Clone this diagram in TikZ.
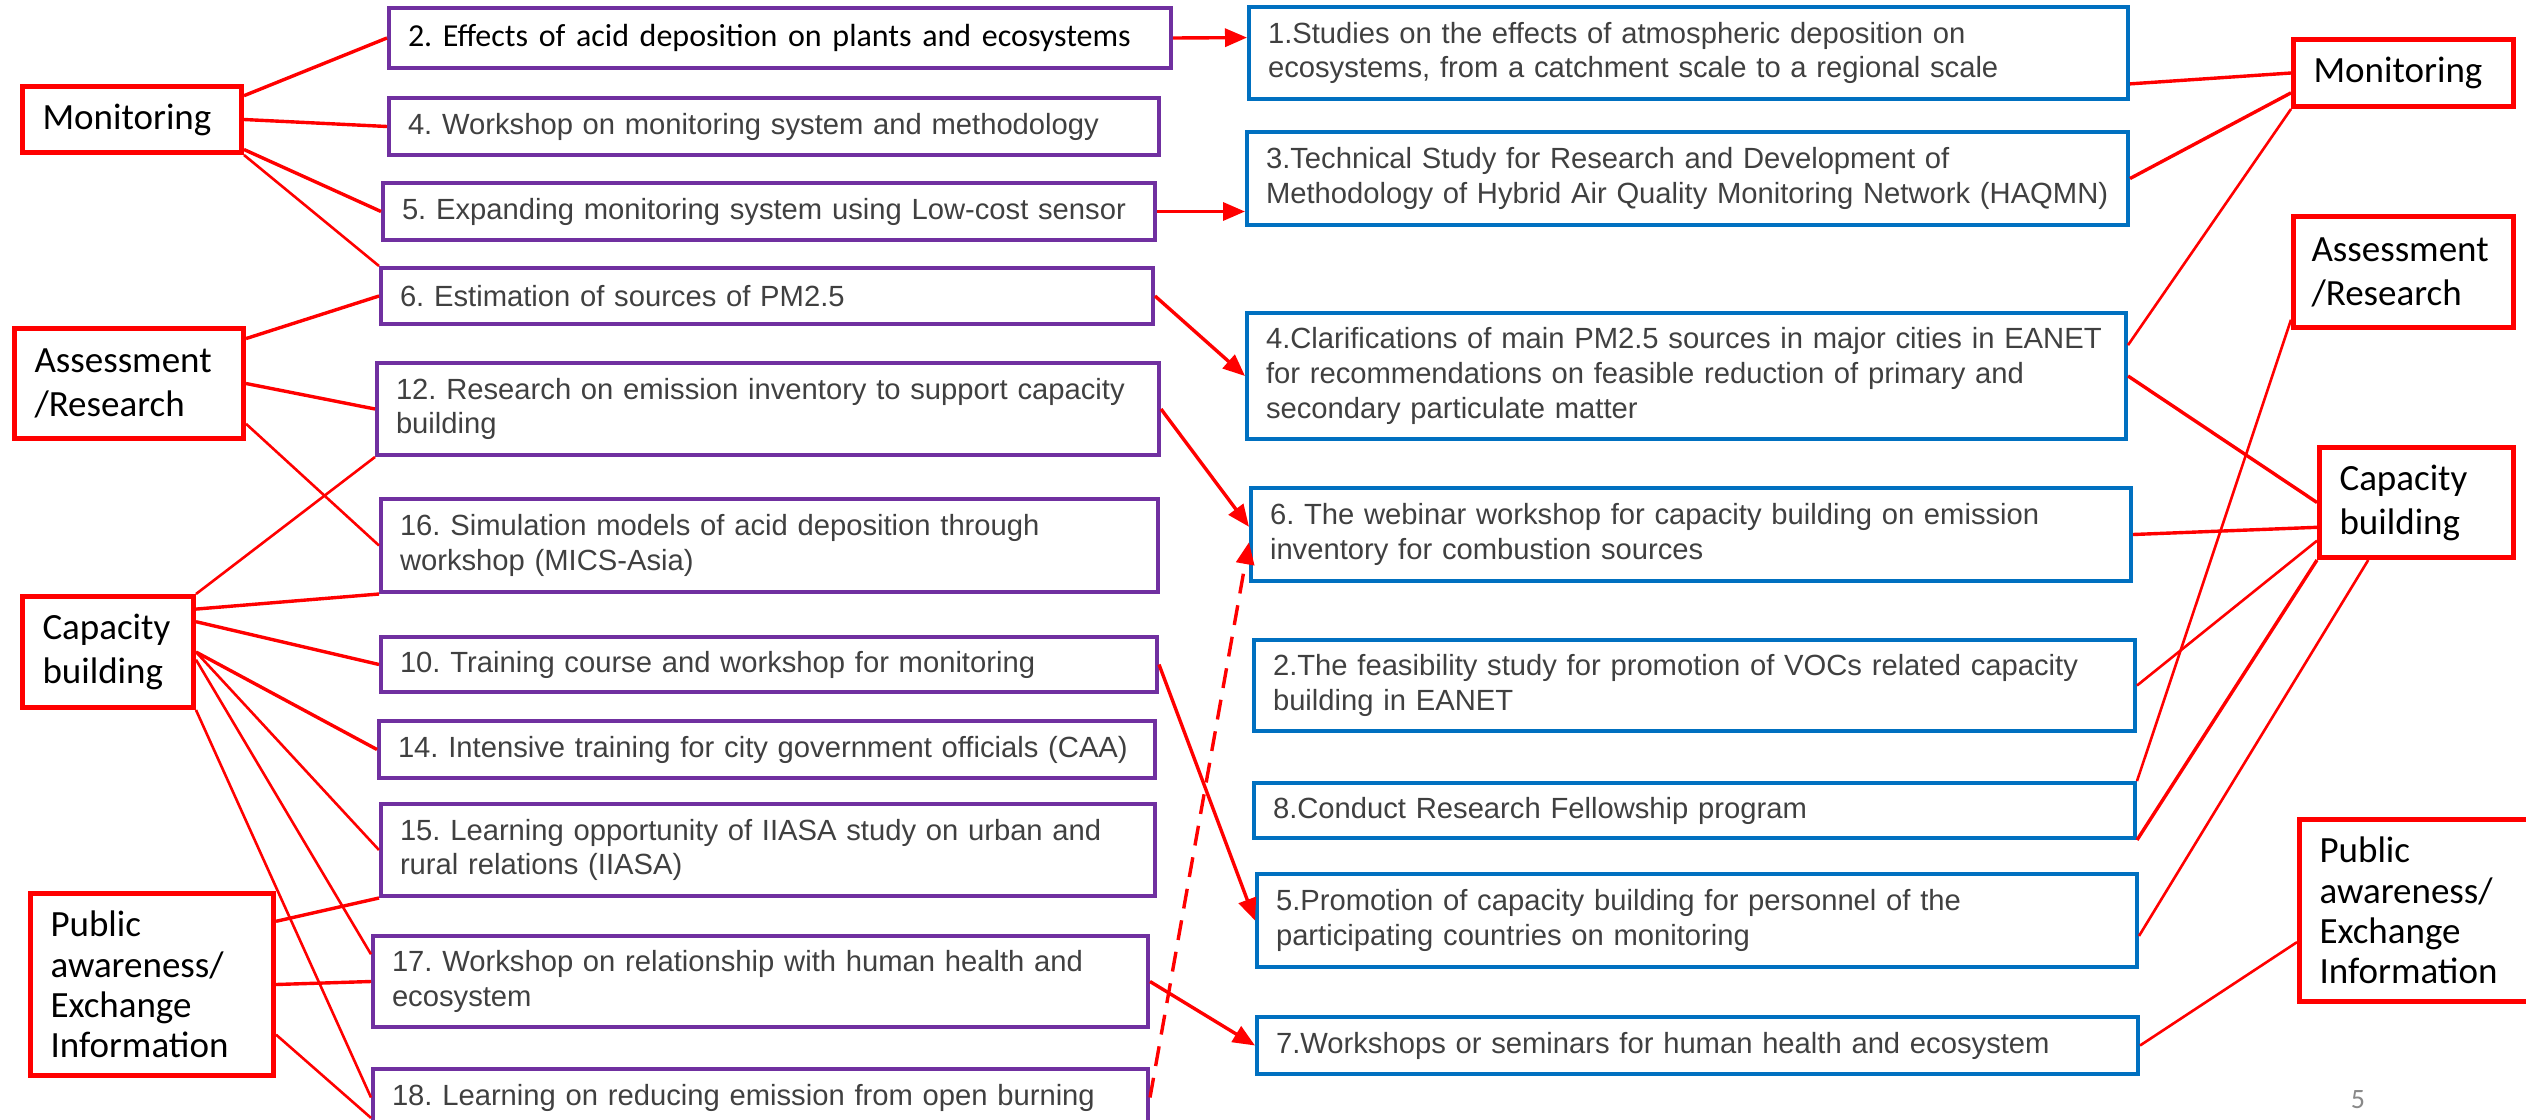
\documentclass[tikz,border=0pt]{standalone}
\usepackage{fontspec}
\setmainfont{Liberation Sans}
\newfontfamily\calibri{Carlito}
\usetikzlibrary{arrows.meta}
\definecolor{linkred}{RGB}{255,0,0}
\definecolor{actpurple}{RGB}{112,48,160}
\definecolor{resblue}{RGB}{0,112,192}
\definecolor{bodygray}{RGB}{64,64,64}
\definecolor{pagegray}{RGB}{137,137,137}
\def\bodyfont{\fontsize{14.6}{17.3}\selectfont}
\def\catfont{\calibri\fontsize{18.5}{22}\selectfont}
\def\pubfont{\calibri\fontsize{18.5}{20.2}\selectfont}
\hyphenpenalty=10000
\frenchspacing

\begin{document}
\begin{tikzpicture}[x=0.5pt,y=0.5pt,yscale=-1,xscale=1,
	cat/.style={draw=linkred, line width=2.5pt, anchor=north west, align=left, inner xsep=10pt, inner ysep=0pt, font=\catfont, text=black},
	actbox/.style={draw=actpurple, line width=2pt, anchor=north west, align=left, inner xsep=9.5pt, inner ysep=0pt, font=\bodyfont, text=bodygray},
	resbox/.style={actbox, draw=resblue},
	link/.style={draw=linkred, line width=1.7pt},
	thinlink/.style={link, line width=1.3pt},
	flow/.style={link, -{Triangle[length=11pt,width=9pt]}}]
	\useasboundingbox (0,0) rectangle (2526,1119);
	\node [cat, minimum width=109.5pt, minimum height=33pt, text width=89.5pt] (monL) at (20,84) {Monitoring};
	\node [cat, minimum width=114.5pt, minimum height=55pt, text width=94.5pt] (assL) at (12,326) {Assessment\\/Research};
	\node [cat, minimum width=85.5pt, minimum height=55.5pt, text width=65.5pt] (capL) at (20,594) {Capacity\\building};
	\node [cat, minimum width=121.5pt, minimum height=91pt, text width=101.5pt, font=\pubfont] (pubL) at (28,891) {Public\\awareness/\\Exchange\\Information};
	\node [cat, minimum width=110pt, minimum height=33.5pt, text width=90pt] (monR) at (2291,37) {Monitoring};
	\node [cat, minimum width=110pt, minimum height=55.5pt, text width=92pt, inner xsep=9pt] (assR) at (2291,214) {Assessment\\/Research};
	\node [cat, minimum width=97pt, minimum height=55pt, text width=77pt] (capR) at (2317,445) {Capacity\\building};
	\node [cat, minimum width=115.5pt, minimum height=91pt, text width=95.5pt, font=\pubfont] (pubR) at (2297,817) {Public\\awareness/\\Exchange\\Information};

	\node [actbox, minimum width=391pt, minimum height=30pt, text width=372pt, font=\calibri\fontsize{16}{19}\selectfont, text=black] (act2) at (387,6) {2. Effects of acid deposition on plants and ecosystems};
	\node [actbox, minimum width=385pt, minimum height=28.5pt, text width=366pt] (act4) at (387,96) {4. Workshop on monitoring system and methodology};
	\node [actbox, minimum width=386pt, minimum height=28.5pt, text width=367pt] (act5) at (381,181) {5. Expanding monitoring system using Low-cost sensor};
	\node [actbox, minimum width=386pt, minimum height=28pt, text width=367pt] (act6) at (379,266) {6. Estimation of sources of PM2.5};
	\node [actbox, minimum width=391pt, minimum height=46pt, text width=372pt] (act12) at (375,361) {12. Research on emission inventory to support capacity\\building};
	\node [actbox, minimum width=388.5pt, minimum height=46.5pt, text width=369.5pt] (act16) at (379,497) {16. Simulation models of acid deposition through\\workshop (MICS-Asia)};
	\node [actbox, minimum width=388pt, minimum height=27.5pt, text width=369pt] (act10) at (379,635) {10. Training course and workshop for monitoring};
	\node [actbox, minimum width=388pt, minimum height=28.5pt, text width=369pt] (act14) at (377,719) {14. Intensive training for city government officials (CAA)};
	\node [actbox, minimum width=387pt, minimum height=46pt, text width=368pt] (act15) at (379,802) {15. Learning opportunity of IIASA study on urban and\\rural relations (IIASA)};
	\node [actbox, minimum width=387.5pt, minimum height=45.5pt, text width=368.5pt] (act17) at (371,934) {17. Workshop on relationship with human health and\\ecosystem};
	\node [actbox, minimum width=387.5pt, minimum height=28.5pt, text width=368.5pt] (act18) at (371,1067) {18. Learning on reducing emission from open burning};

	\node [resbox, minimum width=439.5pt, minimum height=46pt, text width=420.5pt] (res1) at (1247,5) {1.Studies on the effects of atmospheric deposition on\\ecosystems, from a catchment scale to a regional scale};
	\node [resbox, minimum width=440.5pt, minimum height=46.5pt, text width=421.5pt] (res3) at (1245,130) {3.Technical Study for Research and Development of\\Methodology of Hybrid Air Quality Monitoring Network (HAQMN)};
	\node [resbox, minimum width=439.5pt, minimum height=63pt, text width=420.5pt] (res4) at (1245,311) {4.Clarifications of main PM2.5 sources in major cities in EANET\\for recommendations on feasible reduction of primary and\\secondary particulate matter};
	\node [resbox, minimum width=440pt, minimum height=46.5pt, text width=421pt] (res6) at (1249,486) {6. The webinar workshop for capacity building on emission\\inventory for combustion sources};
	\node [resbox, minimum width=440.5pt, minimum height=45.5pt, text width=421.5pt] (res2) at (1252,638) {2.The feasibility study for promotion of VOCs related capacity\\building in EANET};
	\node [resbox, minimum width=440.5pt, minimum height=27.5pt, text width=421.5pt] (res8) at (1252,781) {8.Conduct Research Fellowship program};
	\node [resbox, minimum width=440pt, minimum height=46.5pt, text width=421pt] (res5) at (1255,872) {5.Promotion of capacity building for personnel of the\\participating countries on monitoring};
	\node [resbox, minimum width=440.5pt, minimum height=28.5pt, text width=421.5pt] (res7) at (1255,1015) {7.Workshops or seminars for human health and ecosystem};

	\node [font=\calibri\fontsize{14}{16}\selectfont, text=pagegray] (pagenum) at (2358,1100) {5};

	\draw [link] (monL.12) -- (act2.west);
	\draw [link] (monL.east) -- (act4.west);
	\draw [link] (monL.-15) -- (act5.west);
	\draw [thinlink] (monL.south east) -- (act6.north west);
	\draw [link] (assL.21) -- (act6.west);
	\draw [link] (assL.east) -- (act12.west);
	\draw [thinlink] (assL.-19) -- (act16.west);
	\draw [thinlink] (capL.north east) -- (act12.south west);
	\draw [link] (capL.26) -- (act16.south west);
	\draw [link] (capL.19) -- (act10.west);
	\draw [link] (capL.east) -- (act14.west);
	\draw [thinlink] (capL.east) -- (act15.west);
	\draw [thinlink] (capL.-5) -- (act17.176);
	\draw [thinlink] (capL.south east) -- (act18.west);
	\draw [link] (pubL.27) -- (act15.south west);
	\draw [link] (pubL.east) -- (act17.west);
	\draw [thinlink] (pubL.-22) -- (act18.183);

	\draw [flow] (act2.east) -- (res1.178);
	\draw [flow] (act5.east) -- (act5.east -| res3.west);
	\draw [flow] (act6.east) -- (res4.west);
	\draw [flow] (act12.east) -- (res6.179);
	\draw [flow, dash pattern=on 10pt off 6pt] (act18.east) -- (res6.181);
	\draw [flow] (act10.east) -- (res5.west);
	\draw [flow] (act17.east) -- (res7.west);

	\draw [link] (res1.-4) -- (monR.west);
	\draw [link] (res3.east) -- (monR.190);
	\draw [thinlink] (res4.4) -- (monR.south west);
	\draw [link] (res4.east) -- (capR.west);
	\draw [link] (res6.east) -- (capR.194);
	\draw [thinlink] (res2.east) -- (capR.201);
	\draw [link] (res8.south east) -- (capR.south west);
	\draw [thinlink] (res5.-2) -- (capR.230);
	\draw [thinlink] (assR.203) -- (res8.north east);
	\draw [thinlink] (res7.east) -- (pubR.195);
\end{tikzpicture}
\end{document}
